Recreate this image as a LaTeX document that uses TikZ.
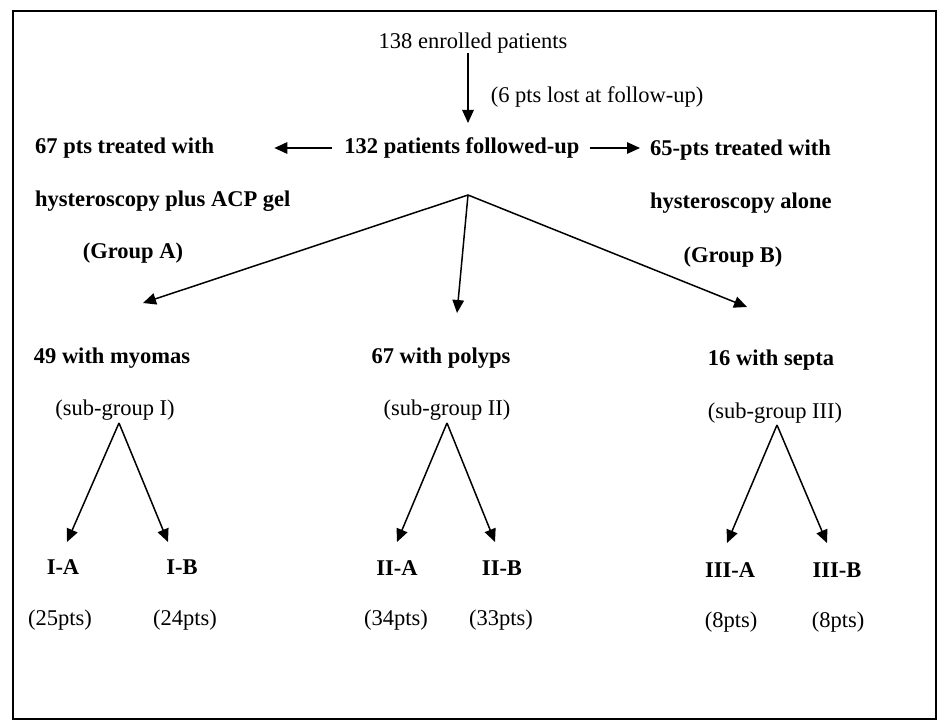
\documentclass[tikz,border=0pt]{standalone}
\usepackage{fontspec}
\setmainfont{Liberation Serif}
\usetikzlibrary{arrows.meta}
\begin{document}
\begin{tikzpicture}[x=1pt,y=-1pt,
  lbl/.style={inner sep=0pt,font=\fontsize{22.5}{27}\selectfont},
  blbl/.style={inner sep=0pt,font=\fontsize{22.5}{27}\selectfont\bfseries},
  arr/.style={line width=1.5pt,-{Triangle[length=13pt,width=11.5pt]}},
  frame/.style={line width=2pt}]
\useasboundingbox (0,0) rectangle (940,722);
\draw[frame] (13,11) rectangle (936,719);

% top
\node[lbl] (n138) at (473,43) {138 enrolled patients};
\node[lbl] (lost) at (597,97) {(6 pts lost at follow-up)};
\node[blbl] (n132) at (462,148) {132 patients followed-up};
\node[blbl,anchor=west] (n67) at (35,148) {67 pts treated with};
\node[blbl,anchor=west] (ga1) at (35,201) {hysteroscopy plus ACP gel};
\node[blbl] (gA) at (133,253) {(Group A)};
\node[blbl,anchor=west] (n65) at (650,150) {65-pts treated with};
\node[blbl,anchor=west] (gb1) at (650,203) {hysteroscopy alone};
\node[blbl] (gB) at (733,257) {(Group B)};

% middle
\node[blbl] (my) at (112,358) {49 with myomas};
\node[blbl] (po) at (441,358) {67 with polyps};
\node[blbl] (se) at (771,360) {16 with septa};
\node[lbl] (sg1) at (115,410) {(sub-group I)};
\node[lbl] (sg2) at (447,410) {(sub-group II)};
\node[lbl] (sg3) at (775,413) {(sub-group III)};

% bottom
\node[blbl] (IA) at (63,567) {I-A};
\node[blbl] (IB) at (182,567) {I-B};
\node[blbl] (IIA) at (397,568) {II-A};
\node[blbl] (IIB) at (502,568) {II-B};
\node[blbl] (IIIA) at (730,570) {III-A};
\node[blbl] (IIIB) at (837,570) {III-B};
\node[lbl] (pIA) at (60,620) {(25pts)};
\node[lbl] (pIB) at (185,620) {(24pts)};
\node[lbl] (pIIA) at (396,620) {(34pts)};
\node[lbl] (pIIB) at (501,620) {(33pts)};
\node[lbl] (pIIIA) at (731,622) {(8pts)};
\node[lbl] (pIIIB) at (838,622) {(8pts)};

% coordinates
\coordinate (split) at (468,195);
\coordinate (t132) at (468,123);
\coordinate (tA) at (143,303);
\coordinate (tB) at (457,313);
\coordinate (tC) at (747,307);
\coordinate (a1) at (119,423);
\coordinate (a2) at (447,423);
\coordinate (a3) at (777,425);
\coordinate (tIA) at (67,542);
\coordinate (tIB) at (168,542);
\coordinate (tIIA) at (397,542);
\coordinate (tIIB) at (495,542);
\coordinate (tIIIA) at (727,543);
\coordinate (tIIIB) at (827,543);

% connectors
\draw[arr] (n138.south -| split) -- (t132);
\draw[arr] ([xshift=-12pt]n132.west) -- ([xshift=60pt]n67.east |- n132.west);
\draw[arr] ([xshift=10pt]n132.east) -- ([xshift=-10pt]n65.west |- n132.east);
\draw[arr] (split) -- (tA);
\draw[arr] (split) -- (tB);
\draw[arr] (split) -- (tC);
\draw[arr] (a1) -- (tIA);
\draw[arr] (a1) -- (tIB);
\draw[arr] (a2) -- (tIIA);
\draw[arr] (a2) -- (tIIB);
\draw[arr] (a3) -- (tIIIA);
\draw[arr] (a3) -- (tIIIB);
\end{tikzpicture}
\end{document}
